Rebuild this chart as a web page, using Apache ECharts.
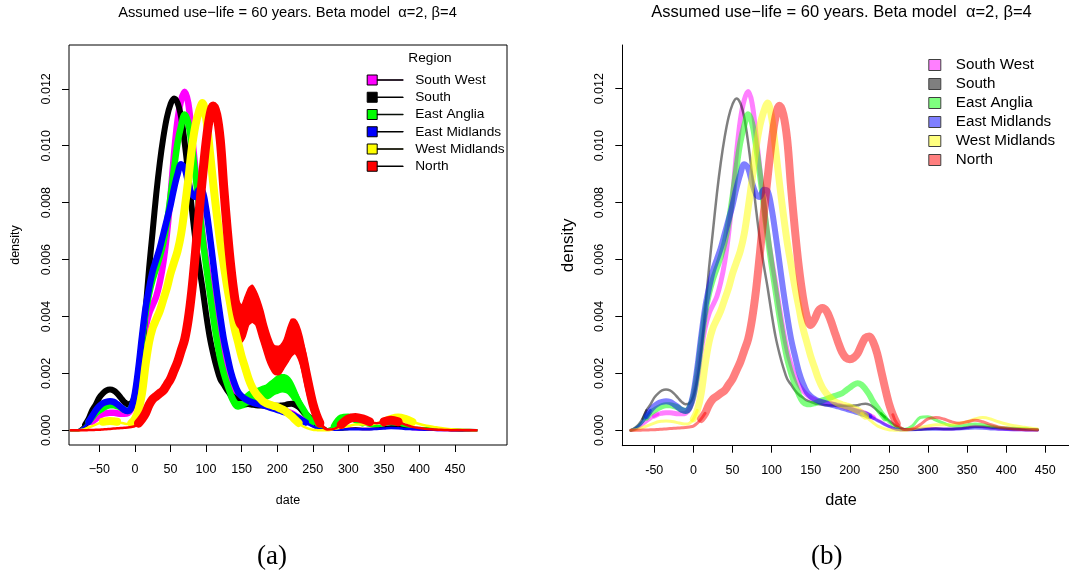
<!DOCTYPE html>
<html><head><meta charset="utf-8">
<script src="https://cdn.jsdelivr.net/npm/echarts@6/dist/echarts.min.js"></script>
<style>html,body{margin:0;padding:0;background:#fff}#c{width:1069px;height:575px}</style>
</head><body><div id="c"></div>
<script>
// ---- data (date, density) ----
const dates = [-90,-85,-80,-75,-70,-65,-60,-55,-50,-45,-40,-35,-30,-25,-20,-15,-10,-5,
  0,5,10,15,20,25,30,35,40,45,50,55,60,65,70,75,80,85,90,95,100,105,110,115,120,125,130,
  135,140,145,150,155,160,165,170,175,180,185,190,195,200,205,210,215,220,225,230,235,240,245,250,255,260,
  270,280,290,300,310,320,330,340,350,360,370,380,390,400,410,420,430,440,450,460,470,480];

const southWest = [0,0,0,0.3e-4,1e-4,2e-4,3e-4,4e-4,5e-4,5.7e-4,6e-4,6.2e-4,6.2e-4,6e-4,5.8e-4,5.8e-4,6e-4,7.5e-4,
  11e-4,18e-4,28e-4,36e-4,41e-4,44e-4,47e-4,52e-4,59e-4,69e-4,82e-4,97e-4,109e-4,116e-4,119e-4,115e-4,104e-4,92e-4,80e-4,69e-4,60e-4,52e-4,43e-4,35e-4,28e-4,23e-4,19e-4,
  16e-4,14e-4,12.5e-4,11.5e-4,10.8e-4,10.2e-4,10e-4,9.7e-4,9.4e-4,9.1e-4,8.8e-4,8.5e-4,8e-4,7.6e-4,7.2e-4,6.8e-4,6.5e-4,6e-4,5.3e-4,4.5e-4,3.7e-4,3e-4,2.2e-4,1.5e-4,0.8e-4,0.4e-4,
  0.2e-4,0.3e-4,0.5e-4,0.6e-4,0.6e-4,0.5e-4,0.5e-4,0.6e-4,1e-4,1.4e-4,1.2e-4,0.8e-4,0.5e-4,0.3e-4,0.2e-4,0.2e-4,0.1e-4,0.1e-4,0,0,0,0];

const south = [0,0,0,0.8e-4,2e-4,4e-4,7e-4,9e-4,11.5e-4,13e-4,14e-4,14.3e-4,14e-4,13e-4,11.5e-4,10e-4,9.2e-4,9.5e-4,
  12e-4,18e-4,28e-4,42e-4,57e-4,70e-4,83e-4,94e-4,103e-4,110e-4,114.5e-4,116.6e-4,115e-4,110e-4,101e-4,90e-4,78e-4,67e-4,58e-4,50e-4,41e-4,33e-4,27e-4,22e-4,18e-4,16e-4,14e-4,
  12.5e-4,11.5e-4,10.5e-4,10e-4,9.5e-4,9.2e-4,9e-4,8.8e-4,8.7e-4,8.7e-4,8.6e-4,8.6e-4,8.6e-4,8.6e-4,8.7e-4,8.8e-4,9.2e-4,9.3e-4,9e-4,8.2e-4,7e-4,5.8e-4,4.6e-4,3.5e-4,2.4e-4,1.4e-4,
  0.4e-4,0.2e-4,0.3e-4,0.5e-4,0.6e-4,0.5e-4,0.5e-4,0.6e-4,1e-4,1.3e-4,1.3e-4,1e-4,0.8e-4,0.6e-4,0.5e-4,0.5e-4,0.4e-4,0.3e-4,0.2e-4,0.1e-4,0.1e-4,0];

const eastAnglia = [0,0,0,0.5e-4,1.5e-4,3e-4,4.5e-4,6e-4,7e-4,7.8e-4,8.5e-4,8.8e-4,8.8e-4,8.5e-4,8e-4,7.2e-4,6.8e-4,8e-4,
  12e-4,20e-4,31e-4,41e-4,48e-4,53e-4,57e-4,61e-4,66e-4,73e-4,82e-4,92e-4,101e-4,107e-4,111e-4,108e-4,100e-4,90e-4,79e-4,68e-4,58e-4,49e-4,40e-4,32e-4,25e-4,20e-4,16e-4,
  12.5e-4,10e-4,9.2e-4,9.2e-4,9.5e-4,10e-4,10.5e-4,11e-4,11.5e-4,12e-4,12.5e-4,13e-4,14e-4,15e-4,16e-4,16.5e-4,16e-4,14.5e-4,12.5e-4,10e-4,8e-4,6e-4,4.2e-4,3e-4,1.8e-4,1e-4,
  0.3e-4,1.5e-4,4.5e-4,4.8e-4,3.6e-4,2.5e-4,1.6e-4,1.5e-4,1.9e-4,2.2e-4,2e-4,1.5e-4,1e-4,0.8e-4,0.7e-4,0.6e-4,0.4e-4,0.2e-4,0.1e-4,0,0,0];

const eastMidlands = [0,0,0,0.5e-4,1.5e-4,3e-4,5e-4,7e-4,8.5e-4,9.5e-4,10e-4,10.2e-4,10e-4,9.2e-4,8.2e-4,7.2e-4,6.8e-4,8e-4,
  13e-4,22e-4,33e-4,43e-4,50e-4,56e-4,60e-4,64e-4,69e-4,74e-4,79e-4,85e-4,90e-4,93.5e-4,92e-4,87e-4,83e-4,82e-4,84.5e-4,84e-4,78e-4,69e-4,59e-4,49e-4,40e-4,32e-4,26e-4,
  20.5e-4,16.5e-4,13.5e-4,12e-4,11e-4,10.3e-4,9.8e-4,9.4e-4,9.1e-4,8.8e-4,8.4e-4,8e-4,7.6e-4,7.2e-4,6.8e-4,6.4e-4,6e-4,5.6e-4,5e-4,4.3e-4,3.5e-4,2.8e-4,2e-4,1.4e-4,0.8e-4,0.4e-4,
  0.2e-4,0.2e-4,0.3e-4,0.4e-4,0.4e-4,0.4e-4,0.4e-4,0.5e-4,0.6e-4,0.8e-4,0.7e-4,0.5e-4,0.4e-4,0.3e-4,0.2e-4,0.2e-4,0.1e-4,0.1e-4,0,0,0,0];

const westMidlands = [0,0,0,0.2e-4,0.5e-4,1e-4,1.5e-4,2e-4,2.5e-4,3e-4,3.2e-4,3.3e-4,3.2e-4,3e-4,2.7e-4,2.4e-4,2.2e-4,2.5e-4,
  4e-4,7e-4,13e-4,23e-4,31e-4,36e-4,39e-4,42e-4,46e-4,50e-4,55e-4,59e-4,63e-4,69e-4,78e-4,88e-4,99e-4,107e-4,112e-4,115e-4,110e-4,99e-4,87e-4,76e-4,66e-4,58e-4,50e-4,
  43e-4,36e-4,31e-4,26e-4,22e-4,18e-4,15e-4,13e-4,11.5e-4,10.2e-4,9.5e-4,9e-4,8.6e-4,8.2e-4,7.6e-4,7e-4,6e-4,5e-4,3.8e-4,2.6e-4,1.6e-4,1e-4,0.5e-4,0.2e-4,0.1e-4,0,
  0,0.5e-4,1e-4,1.5e-4,2e-4,2e-4,2e-4,2.5e-4,3e-4,4e-4,4.5e-4,4e-4,3e-4,2.2e-4,1.6e-4,1.2e-4,0.8e-4,0.5e-4,0.3e-4,0.2e-4,0.1e-4,0];

const north = [0,0,0,0,0,0.1e-4,0.1e-4,0.2e-4,0.2e-4,0.3e-4,0.4e-4,0.5e-4,0.6e-4,0.7e-4,0.8e-4,0.9e-4,1e-4,1.2e-4,
  1.5e-4,2.5e-4,4e-4,6e-4,9e-4,11e-4,12e-4,13e-4,14e-4,16e-4,18e-4,21e-4,24e-4,28e-4,32e-4,39e-4,49e-4,62e-4,76e-4,89e-4,101e-4,110e-4,114e-4,111e-4,102e-4,85e-4,70e-4,
  57e-4,47e-4,40e-4,37e-4,39e-4,42e-4,43e-4,42e-4,39e-4,35e-4,31e-4,27.5e-4,25.5e-4,25e-4,25.5e-4,27e-4,30e-4,32.5e-4,33e-4,31e-4,27e-4,21e-4,15e-4,9.5e-4,5.5e-4,2.5e-4,
  0.3e-4,0.5e-4,2e-4,4e-4,4.5e-4,4e-4,3e-4,2.5e-4,3e-4,3.5e-4,3e-4,2e-4,1.2e-4,0.8e-4,0.5e-4,0.3e-4,0.2e-4,0.1e-4,0,0,0,0];

// spread of the simulated curves in panel (a), where the bundles are widest
const bandDates = [130,135,140,145,150,155,160,165,170,175,180,185,190,195,200,205,210,215,220,225,230,235,240,245,250,255,260,265,270];
const northLowA  = [68e-4,55e-4,43e-4,34e-4,31e-4,33e-4,37e-4,38e-4,37e-4,33e-4,29e-4,25e-4,22e-4,20e-4,19.5e-4,20e-4,22e-4,24e-4,26e-4,27e-4,25e-4,21e-4,15e-4,10e-4,6e-4,3e-4,1e-4,0.3e-4,0.1e-4];
const northHighA = [80e-4,67e-4,55e-4,46e-4,44e-4,47e-4,50e-4,51e-4,49e-4,46e-4,42e-4,37e-4,33e-4,30e-4,29.5e-4,30e-4,32e-4,36e-4,39e-4,39e-4,37e-4,33e-4,27e-4,20e-4,13e-4,8e-4,4e-4,1.5e-4,0.5e-4];
const eastAngliaLowA  = [13e-4,10e-4,8e-4,7.5e-4,7.8e-4,8.2e-4,8.6e-4,9e-4,9.5e-4,10e-4,10.5e-4,11e-4,11.5e-4,12.5e-4,13e-4,13.5e-4,13.5e-4,13e-4,11.5e-4,9.5e-4,7.5e-4,5.5e-4,4e-4,2.8e-4,1.8e-4,1e-4,0.5e-4,0.2e-4,0.1e-4];
const eastAngliaHighA = [19e-4,15e-4,12e-4,11e-4,11.5e-4,12.5e-4,13.5e-4,14e-4,14.5e-4,15e-4,15.5e-4,16e-4,17e-4,18e-4,19e-4,19.5e-4,19.5e-4,19e-4,17.5e-4,15e-4,12e-4,9.5e-4,7e-4,5e-4,3.5e-4,2e-4,1.2e-4,0.6e-4,0.3e-4];

const regions = ['South West','South','East Anglia','East Midlands','West Midlands','North'];
const regionValues = [southWest, south, eastAnglia, eastMidlands, westMidlands, north];
const bandsA = { 'East Anglia': [eastAngliaLowA, eastAngliaHighA], 'North': [northLowA, northHighA] };
const xTicks = [-50,0,50,100,150,200,250,300,350,400,450];
const yTicks = [0,0.002,0.004,0.006,0.008,0.010,0.012];
const titleText = 'Assumed use\u2212life = 60 years. Beta model  \u03b1=2, \u03b2=4';

// ---- styles ----
const colors = ['#FF00FF','#000000','#00FF00','#0000FF','#FFFF00','#FF0000'];
const fillsB = ['rgba(255,0,255,0.5)','rgba(0,0,0,0.5)','rgba(0,255,0,0.5)','rgba(0,0,255,0.5)','rgba(255,255,0,0.5)','rgba(255,0,0,0.5)'];
const widthsA = [6.5,6,6.5,6.5,8,9];
const widthsB = [5,2.5,6,6,7,8];
const thinA = 2.5, thinB = 3;
const THRESH_A = 3e-4, THRESH_B = 5e-4;   // bundles are thin where curves hug the baseline
const FONT = '"Liberation Sans", Arial, Helvetica, sans-serif';
const SERIF = '"Liberation Serif", "DejaVu Serif", serif';

const chart = echarts.init(document.getElementById('c'));

function pieces(vals, lo, hi, thr) {
  const thick = [], thin = [];
  dates.forEach((d, j) => {
    if (d < lo || d > hi) return;
    const near = k => (k >= 0 && k < vals.length) ? vals[k] : vals[j];
    const trio = [near(j - 1), vals[j], near(j + 1)];
    thick.push([d, trio.some(v => v > thr) ? vals[j] : null]);
    thin.push([d, trio.some(v => v <= thr) ? vals[j] : null]);
  });
  return { thick, thin };
}

function bandSeries(lo, hi, color) {
  return {
    type: 'custom', coordinateSystem: 'cartesian2d', xAxisIndex: 0, yAxisIndex: 0,
    silent: true, z: 2, name: 'spread',
    data: [[bandDates[0], lo[0]]],
    renderItem: (params, api) => {
      const top = bandDates.map((d, j) => api.coord([d, hi[j]]));
      const bottom = bandDates.map((d, j) => api.coord([d, lo[j]])).reverse();
      return { type: 'polygon', shape: { points: top.concat(bottom), smooth: 0.2 },
        style: { fill: color, stroke: color, lineWidth: 1.5 } };
    }
  };
}

function lineSeries(name, data, axis, color, width, opacity) {
  return {
    type: 'line', name, xAxisIndex: axis, yAxisIndex: axis, data,
    symbol: 'none', smooth: 0.35, silent: true, z: 2, connectNulls: false,
    lineStyle: { color, width, opacity, join: 'round', cap: 'round' },
    itemStyle: { color }
  };
}

const seriesA = [];
const seriesB = [];
regions.forEach((name, i) => {
  const pa = pieces(regionValues[i], -90, 480, THRESH_A);
  seriesA.push(lineSeries(name, pa.thin, 0, colors[i], thinA, 1));
  seriesA.push(lineSeries(name, pa.thick, 0, colors[i], widthsA[i], 1));
  if (bandsA[name]) seriesA.push(bandSeries(bandsA[name][0], bandsA[name][1], colors[i]));
  const pb = pieces(regionValues[i], -80, 440, THRESH_B);
  seriesB.push(lineSeries(name, pb.thin, 1, colors[i], Math.min(thinB, widthsB[i]), 0.5));
  seriesB.push(lineSeries(name, pb.thick, 1, colors[i], widthsB[i], 0.5));
});

const tickStyle = { color: '#000', width: 1 };
const option = {
  animation: false,
  backgroundColor: '#ffffff',
  title: [
    { text: titleText, left: 287.5, top: 5, textAlign: 'center', padding: 0,
      textStyle: { fontFamily: FONT, fontSize: 14.7, fontWeight: 'normal', color: '#000' } },
    { text: titleText, left: 841.5, top: 4, textAlign: 'center', padding: 0,
      textStyle: { fontFamily: FONT, fontSize: 16.5, fontWeight: 'normal', color: '#000' } },
    { text: 'Region', left: 430, top: 51, textAlign: 'center', padding: 0,
      textStyle: { fontFamily: FONT, fontSize: 13.7, fontWeight: 'normal', color: '#000' } },
    { text: '(a)', left: 272, top: 543, textAlign: 'center', padding: 0,
      textStyle: { fontFamily: SERIF, fontSize: 27, fontWeight: 'normal', color: '#000' } },
    { text: '(b)', left: 826.7, top: 543, textAlign: 'center', padding: 0,
      textStyle: { fontFamily: SERIF, fontSize: 27, fontWeight: 'normal', color: '#000' } }
  ],
  legend: [
    { orient: 'vertical', left: 366.7, top: 73, padding: 0, itemGap: 3.25,
      itemWidth: 36, itemHeight: 10, selectedMode: false,
      data: regions.map((n, i) => ({ name: n, icon: 'path://M0,0H10V10H0Z M10,4.75H36V5.25H10Z',
        itemStyle: { color: colors[i], borderColor: '#000', borderWidth: 1, opacity: 1 } })),
      textStyle: { fontFamily: FONT, fontSize: 13.7, color: '#000', lineHeight: 14, padding: [0, 0, 0, 7] } },
    { orient: 'vertical', left: 928.3, top: 56.5, padding: 0, itemGap: 2,
      itemWidth: 12, itemHeight: 11, selectedMode: false,
      data: regions.map((n, i) => ({ name: n, icon: 'rect',
        itemStyle: { color: fillsB[i], borderColor: '#404040', borderWidth: 1, opacity: 1 } })),
      textStyle: { fontFamily: FONT, fontSize: 15.2, color: '#000', lineHeight: 17, padding: [0, 0, 0, 10] } }
  ],
  grid: [
    { left: 69, top: 45, width: 438, height: 400, show: true, borderColor: '#000', borderWidth: 1,
      backgroundColor: 'transparent', outerBoundsMode: 'none' },
    { left: 622.3, top: 45, width: 462.1, height: 400.7, outerBoundsMode: 'none' }
  ],
  xAxis: [
    { gridIndex: 0, type: 'value', min: -92.6, max: 523, splitLine: { show: false },
      axisLine: { show: false, onZero: false },
      axisTick: { show: true, length: 7, customValues: xTicks, lineStyle: tickStyle },
      axisLabel: { customValues: xTicks, margin: 18, fontFamily: FONT, fontSize: 12.5, color: '#000',
        formatter: v => (v < 0 ? '\u2212' + Math.abs(v) : String(v)) },
      name: 'date', nameLocation: 'middle', nameGap: 49,
      nameTextStyle: { fontFamily: FONT, fontSize: 12.5, color: '#000' } },
    { gridIndex: 1, type: 'value', min: -90.9, max: 500, splitLine: { show: false },
      axisLine: { show: true, onZero: false, lineStyle: { color: '#000', width: 1 } },
      axisTick: { show: true, length: 7, customValues: xTicks, lineStyle: tickStyle },
      axisLabel: { customValues: xTicks, margin: 18, fontFamily: FONT, fontSize: 12.5, color: '#000',
        formatter: v => String(v) },
      name: 'date', nameLocation: 'middle', nameGap: 47,
      nameTextStyle: { fontFamily: FONT, fontSize: 16.3, color: '#000', padding: [0, 24.7, 0, 0] } }
  ],
  yAxis: [
    { gridIndex: 0, type: 'value', min: -0.000516, max: 0.01354, splitLine: { show: false },
      axisLine: { show: false, onZero: false },
      axisTick: { show: true, length: 7, customValues: yTicks, lineStyle: tickStyle },
      axisLabel: { customValues: yTicks, margin: 16, rotate: 90, fontFamily: FONT, fontSize: 12.5, color: '#000',
        formatter: v => v.toFixed(3) },
      name: 'density', nameLocation: 'middle', nameGap: 46.5,
      nameTextStyle: { fontFamily: FONT, fontSize: 12.5, color: '#000' } },
    { gridIndex: 1, type: 'value', min: -0.00054, max: 0.013535, splitLine: { show: false },
      axisLine: { show: true, onZero: false, lineStyle: { color: '#000', width: 1 } },
      axisTick: { show: true, length: 7, customValues: yTicks, lineStyle: tickStyle },
      axisLabel: { customValues: yTicks, margin: 16, rotate: 90, fontFamily: FONT, fontSize: 12.5, color: '#000',
        formatter: v => v.toFixed(3) },
      name: 'density', nameLocation: 'middle', nameGap: 45,
      nameTextStyle: { fontFamily: FONT, fontSize: 17, color: '#000' } }
  ],
  series: seriesA.concat(seriesB)
};
chart.setOption(option);
</script></body></html>
